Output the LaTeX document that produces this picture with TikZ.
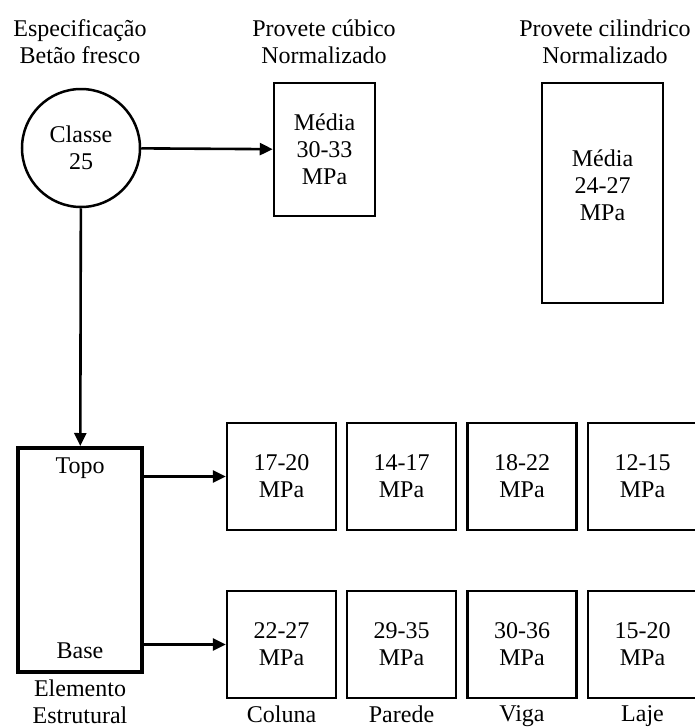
\documentclass[tikz,border=0pt]{standalone}
\usepackage{fontspec}
\setmainfont{Liberation Serif}
\usetikzlibrary{positioning,arrows.meta}
\tikzset{
  caixa/.style={draw, line width=2.5pt, align=center, inner sep=0pt},
  valor/.style={caixa, minimum width=109pt, minimum height=107pt},
  rotulo/.style={align=center, inner sep=0pt},
  seta/.style={line width=2.6pt, -{Triangle[length=13pt,width=12pt]}}
}
\begin{document}
\begin{tikzpicture}[x=1pt,y=-1pt, font=\fontsize{24}{27}\selectfont]
\useasboundingbox (0,0) rectangle (695,728);
\node[caixa, circle, minimum size=118pt] (classe) at (81,148) {Classe\\25};
\node[caixa, minimum width=101pt, minimum height=133pt] (cubo) at (324.5,149.5) {Média\\30-33\\MPa};
\node[caixa, minimum width=121pt, minimum height=220pt] (cilindro) at (602.5,193) {};
\node[rotulo] (media) at (602.5,185) {Média\\24-27\\MPa};
\node[caixa, line width=4pt, minimum width=124pt, minimum height=224pt] (elemento) at (80,560) {};
\node[rotulo] (topo) at (80,468) {Topo};
\node[rotulo] (base) at (80,651) {Base};
\node[rotulo] at (80,42) {Especificação\\Betão fresco};
\node[rotulo] at (324,42) {Provete cúbico\\Normalizado};
\node[rotulo] at (605,42) {Provete cilindrico\\Normalizado};
\node[rotulo] at (80,702) {Elemento\\Estrutural};
% valores no topo e na base
\node[valor] (ct) at (281.5,476.5) {17-20\\MPa};
\node[valor] (pt) at (401.5,476.5) {14-17\\MPa};
\node[valor] (vt) at (522,476.5) {18-22\\MPa};
\node[valor] (lt) at (642.5,476.5) {12-15\\MPa};
\node[valor] (cb) at (281.5,644.5) {22-27\\MPa};
\node[valor] (pb) at (401.5,644.5) {29-35\\MPa};
\node[valor] (vb) at (522,644.5) {30-36\\MPa};
\node[valor] (lb) at (642.5,644.5) {15-20\\MPa};
\node[rotulo, below=6pt of cb] {Coluna};
\node[rotulo, below=6pt of pb] {Parede};
\node[rotulo, below=6pt of vb] {Viga};
\node[rotulo, below=6pt of lb] {Laje};
\draw[seta] (classe) -- (cubo);
\draw[seta] (classe) -- (elemento);
\draw[seta] (elemento.east |- ct) -- (ct);
\draw[seta] (elemento.east |- cb) -- (cb);
\end{tikzpicture}
\end{document}
